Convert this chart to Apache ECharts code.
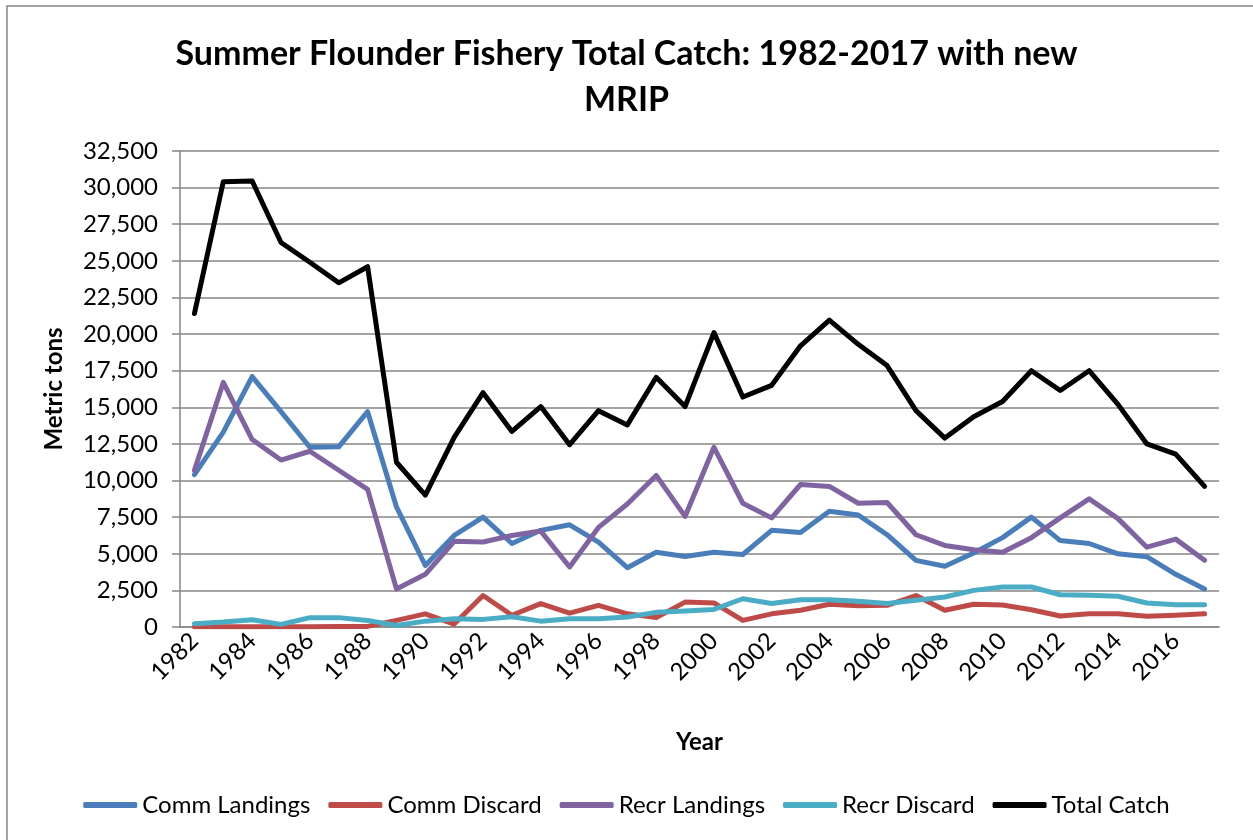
<!DOCTYPE html>
<html>
<head>
<meta charset="utf-8">
<title>Summer Flounder Fishery Total Catch</title>
<script src="https://cdn.jsdelivr.net/npm/echarts@6/dist/echarts.min.js"></script>
<style>
  html, body { margin: 0; padding: 0; background: #fff; }
  #chart { width: 1253px; height: 840px; }
</style>
</head>
<body>
<div id="chart"></div>
<script>
// years on the x axis
const years = []
for (let y = 1982; y <= 2017; y++) years.push(String(y))

// metric tons
const commLandings = [10400, 13300, 17100, 14700, 12270, 12300, 14700, 8200, 4200, 6250, 7500, 5700,
  6600, 6980, 5800, 4050, 5100, 4820, 5100, 4950, 6600, 6450, 7900, 7650,
  6300, 4550, 4150, 5050, 6100, 7500, 5900, 5700, 5000, 4800, 3600, 2600]
const commDiscard = [20, 20, 20, 20, 20, 30, 40, 450, 900, 200, 2150, 800,
  1600, 950, 1480, 900, 640, 1700, 1640, 450, 900, 1140, 1550, 1450,
  1480, 2150, 1140, 1550, 1500, 1180, 750, 900, 900, 730, 800, 900]
const recrLandings = [10700, 16700, 12800, 11400, 12000, 10700, 9400, 2600, 3600, 5850, 5800, 6250,
  6550, 4100, 6800, 8400, 10350, 7550, 12270, 8450, 7450, 9730, 9600, 8450,
  8500, 6300, 5570, 5270, 5100, 6100, 7450, 8750, 7400, 5450, 6000, 4550]
const recrDiscard = [230, 340, 500, 180, 640, 640, 450, 100, 400, 570, 520, 700,
  400, 570, 570, 680, 1000, 1100, 1200, 1930, 1600, 1860, 1860, 1750,
  1600, 1820, 2050, 2500, 2730, 2730, 2200, 2160, 2100, 1640, 1520, 1520]
const totalCatch = [21400, 30400, 30450, 26250, 24900, 23500, 24600, 11250, 9000, 12950, 16000, 13350,
  15050, 12450, 14770, 13800, 17050, 15050, 20100, 15700, 16500, 19200, 20950, 19300,
  17850, 14770, 12900, 14360, 15400, 17500, 16150, 17500, 15200, 12500, 11800, 9600]

const seriesNames = ['Comm Landings', 'Comm Discard', 'Recr Landings', 'Recr Discard', 'Total Catch']
const seriesData = [commLandings, commDiscard, recrLandings, recrDiscard, totalCatch]
const colors = ['#4a7ebb', '#be4b48', '#8064a2', '#4bacc6', '#000000']

const font = 'Lato, "Open Sans", sans-serif'
const gray = '#868686'

const myChart = echarts.init(document.getElementById('chart'))
const option = {
  color: colors,
  animation: false,
  textStyle: { fontFamily: font },
  graphic: [
    {
      type: 'rect',
      shape: { x: 7, y: 6, width: 1300, height: 900 },
      style: { fill: 'none', stroke: gray, lineWidth: 1.5 },
      silent: true
    }
  ],
  title: {
    text: 'Summer Flounder Fishery Total Catch: 1982-2017 with new\nMRIP',
    left: 'center',
    top: 26,
    textStyle: {
      fontFamily: font,
      fontSize: 34,
      fontWeight: 'bold',
      color: '#000',
      lineHeight: 46
    }
  },
  legend: {
    data: seriesNames,
    left: 'center',
    top: 788,
    itemWidth: 54,
    itemHeight: 6,
    itemGap: 18,
    icon: 'roundRect',
    textStyle: { fontFamily: font, fontSize: 24, color: '#000' }
  },
  grid: {
    left: 180,
    right: 34,
    top: 151,
    bottom: 213
  },
  xAxis: {
    type: 'category',
    data: years,
    boundaryGap: true,
    name: 'Year',
    nameLocation: 'middle',
    nameGap: 103,
    nameTextStyle: { fontFamily: font, fontSize: 24, fontWeight: 'bold', color: '#000' },
    axisLine: { lineStyle: { color: gray, width: 1.5 } },
    axisTick: { interval: 0, length: 8, lineStyle: { color: gray, width: 1.5 } },
    axisLabel: {
      interval: 1,
      rotate: 45,
      margin: 10,
      fontFamily: font,
      fontSize: 24,
      color: '#000'
    }
  },
  yAxis: {
    type: 'value',
    min: 0,
    max: 32500,
    interval: 2500,
    name: 'Metric tons',
    nameLocation: 'middle',
    nameRotate: 90,
    nameGap: 114,
    nameTextStyle: { fontFamily: font, fontSize: 24, fontWeight: 'bold', color: '#000' },
    axisLine: { show: true, lineStyle: { color: gray, width: 1.5 } },
    axisTick: { show: true, length: 8, lineStyle: { color: gray, width: 1.5 } },
    splitLine: { lineStyle: { color: gray, width: 1.5 } },
    axisLabel: {
      margin: 22,
      fontFamily: font,
      fontSize: 24,
      color: '#000',
      formatter: function (v) {
        return v.toLocaleString('en-US')
      }
    }
  },
  series: seriesNames.map(function (name, i) {
    return {
      name: name,
      type: 'line',
      data: seriesData[i],
      showSymbol: false,
      symbol: 'none',
      lineStyle: { width: 5, color: colors[i], cap: 'round', join: 'round' },
      itemStyle: { color: colors[i] }
    }
  })
}
myChart.setOption(option)
</script>
</body>
</html>
